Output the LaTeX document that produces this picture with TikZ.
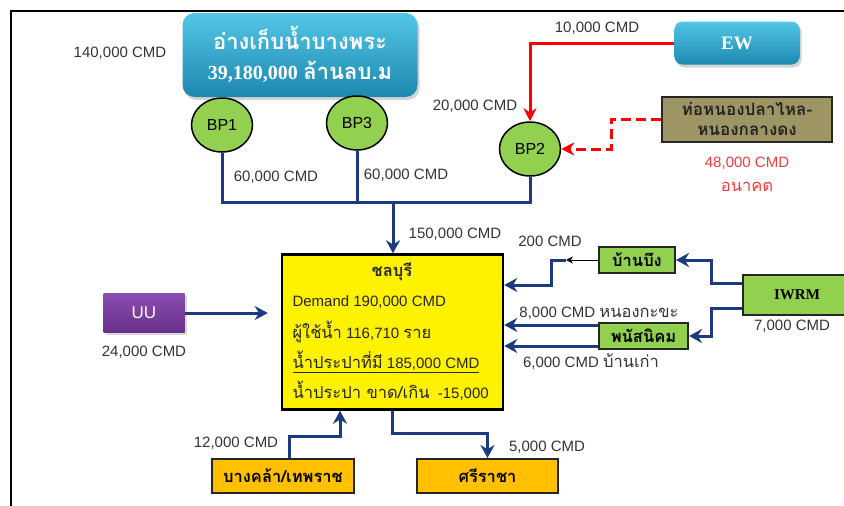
\documentclass[tikz,border=0pt]{standalone}
\usepackage{fontspec}
\setmainfont{Liberation Sans}
\newfontfamily\thaifont[Script=Thai,Scale=1.1]{Loma}
\newfontfamily\titlefont{Liberation Serif}
\usetikzlibrary{arrows.meta,shapes.geometric,shadows}

\definecolor{pipeblue}{HTML}{1B3A80}
\definecolor{bpgreen}{HTML}{92D050}
\definecolor{resdark}{HTML}{1E88B0}
\definecolor{reslight}{HTML}{52C6E6}
\definecolor{khaki}{HTML}{9E9564}
\definecolor{uulight}{HTML}{8A4DB0}
\definecolor{uudark}{HTML}{6A2F8C}
\definecolor{amber}{HTML}{FFC000}
\definecolor{labelgray}{HTML}{333333}
\definecolor{futurered}{HTML}{F03C3C}

\begin{document}
\begin{tikzpicture}[x=1pt,y=-1pt,
  lbl/.style={font=\fontsize{15}{17}\selectfont, text=labelgray},
  pipe/.style={draw=pipeblue, line width=3pt},
  flow/.style={pipe, -{Stealth[length=13pt,width=14pt]}},
  redflow/.style={draw=red, line width=3pt, -{Stealth[length=13pt,width=13pt]}},
  bp/.style={ellipse, draw=black, line width=1.5pt, fill=bpgreen, minimum width=61pt, minimum height=54pt, font=\fontsize{16}{18}\selectfont},
  tank/.style={rounded corners=12pt, top color=reslight, bottom color=resdark, text=white, drop shadow={opacity=0.35, shadow xshift=2pt, shadow yshift=-3pt}},
  sbox/.style={draw=black!85, line width=2pt, fill=bpgreen, font=\thaifont\bfseries\fontsize{15}{17}\selectfont, inner sep=0pt},
  chontext/.style={anchor=west, font=\fontsize{15}{17}\selectfont, text=black!85}]
\useasboundingbox (0,0) rectangle (844,506);
\draw[line width=2.5pt] (11,506) -- (11,11) -- (844,11);

% reservoir and pumping stations
\node[tank, minimum width=235pt, minimum height=84pt] (bangphra) at (300,55) {};
\node[text=white, font=\thaifont\bfseries\fontsize{20}{22}\selectfont] (restitle) at (300,38) {อ่างเก็บน้ำบางพระ};
\node[text=white, font=\bfseries\fontsize{20}{22}\selectfont] (resvol) at (300,72) {{\titlefont 39,180,000} {\thaifont ล้านลบ.ม}};
\node[lbl] (l140) at (120,53) {140,000 CMD};

\node[bp] (bp1) at (222,125) {BP1};
\node[bp] (bp3) at (357,123) {BP3};
\node[bp] (bp2) at (530,149) {BP2};

\node[tank, rounded corners=8pt, minimum width=125pt, minimum height=43pt, font=\titlefont\bfseries\fontsize{19}{21}\selectfont] (ew) at (737,43) {EW};
\node[draw=black!85, line width=2pt, fill=khaki, minimum width=170pt, minimum height=45pt, align=center, font=\thaifont\bfseries\fontsize{15.5}{20}\selectfont, text=black!85] (nongpla) at (747,119) {ท่อหนองปลาไหล-\\หนองกลางดง};
\node[lbl, text=futurered] (l48) at (747,163) {48,000 CMD};
\node[lbl, text=futurered, font=\thaifont\fontsize{15}{17}\selectfont] (future) at (747,187) {อนาคต};

\node[lbl] (l10) at (597,28) {10,000 CMD};
\node[lbl] (l20) at (475,106) {20,000 CMD};
\node[lbl] (l60a) at (276,177) {60,000 CMD};
\node[lbl] (l60b) at (406,175) {60,000 CMD};
\node[lbl] (l150) at (455,234) {150,000 CMD};

% Chonburi demand box
\node[draw=black, line width=2.5pt, fill=yellow, minimum width=221pt, minimum height=155pt] (chon) at (392.5,332) {};
\node[font=\thaifont\bfseries\fontsize{15}{17}\selectfont, text=black!85] (chontitle) at (392,272) {ชลบุรี};
\node[chontext] (demand) at (289,302) {Demand 190,000 CMD};
\node[chontext] (users) at (289,332) {{\thaifont ผู้ใช้น้ำ} 116,710 {\thaifont ราย}};
\node[chontext] (supply) at (289,362) {\underline{{\thaifont น้ำประปาที่มี} 185,000 CMD}};
\node[chontext] (balance) at (289,391) {{\thaifont น้ำประปา ขาด/เกิน}\ \ -15,000};

% other sources
\node[top color=uulight, bottom color=uudark, text=white, minimum width=81pt, minimum height=39pt, font=\fontsize{17}{19}\selectfont, drop shadow={opacity=0.3, shadow xshift=2pt, shadow yshift=-2pt}] (uu) at (144,313) {UU};
\node[lbl] (l24) at (144,352) {24,000 CMD};

\node[sbox, minimum width=108pt, minimum height=40pt, font=\titlefont\bfseries\fontsize{15}{17}\selectfont] (iwrm) at (797,295) {IWRM};
\node[lbl] (l7) at (792,326) {7,000 CMD};
\node[sbox, minimum width=76pt, minimum height=26pt] (baanbueng) at (637,260) {บ้านบึง};
\node[sbox, minimum width=89pt, minimum height=26pt] (phanat) at (643.5,336) {พนัสนิคม};
\node[lbl] (l200) at (550,241) {200 CMD};
\node[lbl] (l8) at (599,313) {8,000 CMD {\thaifont หนองกะขะ}};
\node[lbl] (l6) at (591,362) {6,000 CMD {\thaifont บ้านเก่า}};

\node[sbox, fill=amber, minimum width=142pt, minimum height=34pt] (bangkhla) at (283,476) {บางคล้า/เทพราช};
\node[sbox, fill=amber, minimum width=141pt, minimum height=34pt] (sriracha) at (487.5,476) {ศรีราชา};
\node[lbl] (l12) at (236,443) {12,000 CMD};
\node[lbl] (l5) at (547,447) {5,000 CMD};

% connectors
\coordinate (jn) at (393,202);
\draw[pipe] (bp1) -- (bp1 |- jn) -- (bp2 |- jn) -- (bp2);
\draw[pipe] (bp3) -- (bp3 |- jn);
\draw[flow] (jn) -- (jn |- chon.north);

\draw[redflow] (ew) -| (bp2);
\draw[redflow, dash pattern=on 10pt off 5pt] (nongpla.west) -- ++(-50,0) |- (bp2);

\draw[flow] ([yshift=12pt]iwrm.west) -- ++(-31,0) |- (baanbueng);
\draw[flow] ([yshift=-13pt]iwrm.west) -- ++(-31,0) |- (phanat);
\draw[line width=1pt, -{Stealth[length=7pt,width=7pt]}] (baanbueng.west) -- ++(-32,0) coordinate (bbtip);
\draw[flow] (bbtip) -- ++(-15,0) |- ([yshift=47pt]chon.east);
\draw[flow] ([yshift=11pt]phanat.west) -- ([yshift=11pt]phanat.west -| chon.east);
\draw[flow] ([yshift=-10pt]phanat.west) -- ([yshift=-10pt]phanat.west -| chon.east);

\draw[flow, shorten >=13pt] (uu) -- (uu -| chon.west);
\draw[flow] ([xshift=6pt]bangkhla.north) -- ++(0,-22) -| ([xshift=-52.5pt]chon.south);
\draw[flow] (chon.south) -- ++(0,23) -| (sriracha.north);
\end{tikzpicture}
\end{document}
